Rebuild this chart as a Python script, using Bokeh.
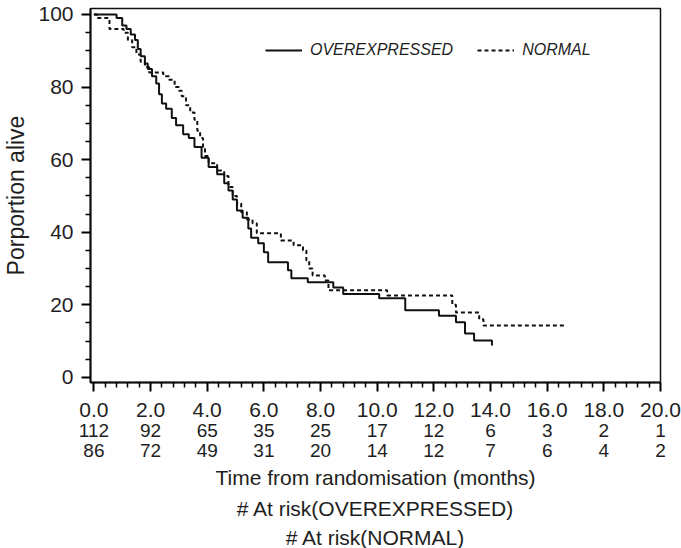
from bokeh.plotting import figure
from bokeh.models import (LinearAxis, FixedTicker, PrintfTickFormatter, Range1d,
                          Legend, LegendItem, Title)
from bokeh.embed import file_html
from bokeh.resources import INLINE

# ---------------- data ----------------
over_t = [0, 0.8, 1.0, 1.15, 1.3, 1.45, 1.55, 1.65, 1.8, 1.9, 2.05, 2.2, 2.3, 2.4,
          2.55, 2.75, 2.9, 3.15, 3.35, 3.55, 3.8, 4.05, 4.35, 4.6, 4.75, 4.9, 5.05,
          5.25, 5.45, 5.55, 5.8, 6.0, 6.15, 6.85, 6.97, 7.55, 8.45, 8.8, 10.07,
          10.99, 12.18, 12.78, 13.1, 13.42, 14.05]
over_s = [100, 99, 97, 96, 94.5, 93, 90.5, 88.5, 86.5, 85, 83, 81, 78, 75.5,
          74, 71.5, 69.5, 67, 66, 63.5, 60.5, 58, 56, 53.5, 51.5, 49, 46,
          44, 41, 38.5, 37, 34.5, 31.7, 29.5, 27.3, 26.2, 24.8, 23, 21.8,
          18.5, 17, 15.2, 12.1, 10.2, 8.8]

norm_t = [0, 0.1, 0.55, 1.05, 1.2, 1.35, 1.5, 1.65, 1.8, 1.95, 2.45, 2.65, 2.85,
          3.0, 3.1, 3.25, 3.4, 3.55, 3.65, 3.75, 3.85, 3.92, 4.05, 4.35, 4.6, 4.75,
          4.9, 5.05, 5.2, 5.4, 5.6, 5.75, 6.6, 7.05, 7.38, 7.5, 7.6, 7.72, 8.15,
          8.28, 10.35, 12.65, 12.78, 13.6, 13.75, 16.6]
norm_s = [100, 99, 96, 95, 93, 91, 89, 87, 85.5, 84, 83, 82, 80,
          79, 77.5, 75, 73, 71, 68, 66, 63, 61, 59, 57, 55.5, 52.5,
          50, 48, 45.5, 43.5, 42.5, 39.7, 37.7, 36.4, 35, 32.2, 30, 28.1, 26.7,
          24, 22.6, 20, 17.9, 16, 14.3, 14.3]

x_ticks = [0, 2, 4, 6, 8, 10, 12, 14, 16, 18, 20]
at_risk_over = ["112", "92", "65", "35", "25", "17", "12", "6", "3", "2", "1"]
at_risk_norm = ["86", "72", "49", "31", "20", "14", "12", "7", "6", "4", "2"]
y_ticks = [0, 20, 40, 60, 80, 100]

x_label = "Time from randomisation (months)"
risk_label_over = "# At risk(OVEREXPRESSED)"
risk_label_norm = "# At risk(NORMAL)"
y_label = "Porportion alive"
series_names = ["OVEREXPRESSED", "NORMAL"]

FONT = "Liberation Sans"
TXT = "#1e1e1e"

p = figure(frame_width=570, frame_height=374,
           x_range=Range1d(-0.12, 20.0), y_range=Range1d(-1.4, 101.65),
           output_backend="svg", toolbar_location=None,
           min_border_left=82, min_border_right=21, min_border_top=8,
           min_border_bottom=0)
p.grid.visible = False
p.background_fill_color = "white"
p.border_fill_color = "white"
p.outline_line_color = "#111111"
p.outline_line_width = 1.5

r1 = p.step(over_t, over_s, mode="after", line_color="#111111", line_width=2)
r2 = p.step(norm_t, norm_s, mode="after", line_color="#111111", line_width=2,
            line_dash="4 3")

# main x axis
xa = p.xaxis[0]
minor_x = [round(i * 0.4, 2) for i in range(51) if i % 5]
xa.ticker = FixedTicker(ticks=x_ticks, minor_ticks=minor_x)
xa.formatter = PrintfTickFormatter(format="%.1f")
xa.axis_line_width = 2
xa.axis_line_color = "#111111"
xa.major_tick_out = 9
xa.major_tick_in = 0
xa.minor_tick_out = 5
xa.minor_tick_in = 0
xa.major_tick_line_width = 2
xa.minor_tick_line_width = 1.5
xa.major_label_text_font = FONT
xa.major_label_text_font_size = "21px"
xa.major_label_text_color = TXT
xa.major_label_standoff = 11

# at-risk axes
for labels in [at_risk_over, at_risk_norm]:
    a = LinearAxis(ticker=FixedTicker(ticks=x_ticks),
                   major_label_overrides={t: l for t, l in zip(x_ticks, labels)})
    a.axis_line_color = None
    a.major_tick_line_color = None
    a.minor_tick_line_color = None
    a.major_tick_out = 0
    a.major_tick_in = 0
    a.major_label_standoff = 4
    a.major_label_text_font = FONT
    a.major_label_text_font_size = "19px"
    a.major_label_text_color = TXT
    p.add_layout(a, "below")

# y axis
ya = p.yaxis[0]
ya.ticker = FixedTicker(ticks=y_ticks, minor_ticks=[v for v in range(0, 101, 5) if v % 20])
ya.axis_line_width = 2
ya.axis_line_color = "#111111"
ya.major_tick_out = 9
ya.major_tick_in = 0
ya.minor_tick_out = 5
ya.minor_tick_in = 0
ya.major_tick_line_width = 2
ya.minor_tick_line_width = 1.5
ya.major_label_text_font = FONT
ya.major_label_text_font_size = "21px"
ya.major_label_text_color = TXT
ya.major_label_standoff = 8
ya.axis_label = y_label
ya.axis_label_text_font = FONT
ya.axis_label_text_font_size = "23px"
ya.axis_label_text_font_style = "normal"
ya.axis_label_text_color = TXT
ya.axis_label_standoff = 6

for txt, sb in [(x_label, 9), (risk_label_over, 2), (risk_label_norm, 6)]:
    t = Title(text=txt, align="center", text_font=FONT, text_font_size="21px",
              text_font_style="normal", text_color=TXT, standoff=sb)
    p.add_layout(t, "below")

legend = Legend(items=[LegendItem(label=series_names[0], renderers=[r1]),
                       LegendItem(label=series_names[1], renderers=[r2])],
                orientation="horizontal", location=(175, 322),
                padding=0, margin=0, spacing=24, glyph_width=37, glyph_height=20,
                label_standoff=8, border_line_alpha=0, background_fill_alpha=0,
                label_text_font=FONT, label_text_font_size="16px",
                label_text_font_style="italic", label_text_color=TXT)
p.add_layout(legend)

open("out.html", "w").write(file_html(p, INLINE))
